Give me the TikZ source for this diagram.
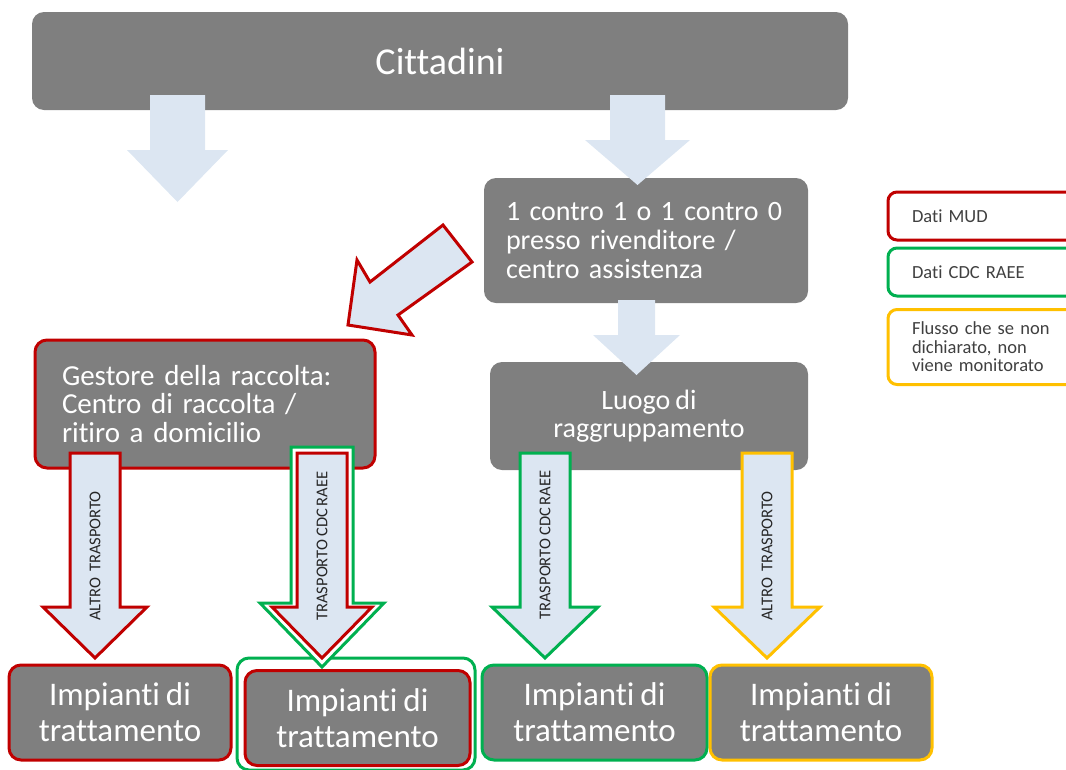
\documentclass[tikz,border=0pt]{standalone}
\usepackage{fontspec}
\setmainfont{Carlito}[Ligatures=NoCommon, WordSpace=0.8]
\usepackage{tikz}
\usetikzlibrary{positioning}
\definecolor{boxgray}{HTML}{7F7F7F}
\definecolor{mudred}{HTML}{C00000}
\definecolor{cdcgreen}{HTML}{00B050}
\definecolor{flowyellow}{HTML}{FFC000}
\definecolor{arrowblue}{HTML}{DCE6F2}
\definecolor{legtext}{HTML}{404040}
\tikzset{every node/.style={inner sep=0pt},
box/.style={draw=none, fill=boxgray, rounded corners=12pt, text=white},
legend/.style={draw, fill=white, line width=3pt, rounded corners=9pt, minimum width=198pt, text width=150pt, align=left, text=legtext, font=\fontsize{18.5}{18.5}\selectfont},
blk/.style={fill=arrowblue, draw=none},
arrowtext/.style={rotate=90, text=black!85, font=\fontsize{16.5}{18}\selectfont},
imp/.style={box, line width=3pt, minimum width=222pt, minimum height=95pt, align=center, font=\fontsize{33}{36}\selectfont}
}
\newcommand{\blockdown}[7]{%
  \draw[#1] (#2-#6,#3) -- (#2+#6,#3) -- (#2+#6,#4) -- (#2+#7,#4) -- (#2,#5)
    -- (#2-#7,#4) -- (#2-#6,#4) -- cycle;}
\begin{document}
\begin{tikzpicture}[x=1pt, y=-1pt]
\useasboundingbox (0,0) rectangle (1066,769);

\node[box, minimum width=816pt, minimum height=98pt, font=\fontsize{38}{42}\selectfont] (citt) at (440,61) {Cittadini};
\node[box, minimum width=324pt, minimum height=125pt, text width=280pt, align=left, font=\fontsize{28}{29}\selectfont] (rivend) at (646,240.5) {1 contro 1 o 1 contro 0\\presso rivenditore /\\centro assistenza};
\node[box, minimum width=318pt, minimum height=108pt, align=center, font=\fontsize{28}{28.5}\selectfont] (luogo) at (649,416) {Luogo di\\raggruppamento};
\node[box, draw=mudred, line width=3pt, minimum width=340pt, minimum height=128pt, text width=286pt, align=left, font=\fontsize{29}{28.5}\selectfont] (gestore) at (205,404) {Gestore della raccolta:\\Centro di raccolta /\\ritiro a domicilio};

\node[imp, draw=mudred] (imp1) at (120,712.5) {Impianti di\\trattamento};
\node[box, fill=white, draw=cdcgreen, line width=3pt, minimum width=238pt, minimum height=112pt] (imp2out) at (356,714) {};
\node[imp, draw=mudred, minimum width=225pt] (imp2) at (357.5,718) {Impianti di\\trattamento};
\node[imp, draw=cdcgreen, minimum width=225pt] (imp3) at (594.5,712.5) {Impianti di\\trattamento};
\node[imp, draw=flowyellow] (imp4) at (821,712.5) {Impianti di\\trattamento};

\node[legend, draw=mudred, minimum height=48pt] (mud) at (987,216) {Dati MUD};
\node[legend, draw=cdcgreen, minimum height=48pt] (cdc) at (987,272) {Dati CDC RAEE};
\node[legend, draw=flowyellow, minimum height=75pt] (flusso) at (987,347) {Flusso che se non\\dichiarato, non\\viene monitorato};

\blockdown{blk}{177.5}{95}{150}{202}{27.5}{50.5}
\blockdown{blk}{637.5}{95}{140}{185}{27.5}{52.5}
\blockdown{blk}{636.5}{300}{335}{375}{18.5}{43.5}
\draw[blk, draw=mudred, line width=3pt, line join=miter] (443,225) -- (472,262) -- (398,315) -- (412,335)
  -- (348,325) -- (357,260) -- (370,282) -- cycle;

\blockdown{blk, draw=mudred, line width=3pt}{95}{453}{607}{658}{25}{52}
\blockdown{fill=white, draw=cdcgreen, line width=3pt}{322}{447}{603}{667}{31}{62}
\blockdown{blk, draw=mudred, line width=3pt}{322}{453}{607}{658}{25}{50}
\blockdown{blk, draw=cdcgreen, line width=3pt}{545}{453}{607}{658}{25}{53}
\blockdown{blk, draw=flowyellow, line width=3pt}{767}{453}{607}{658}{25}{53}

\node[arrowtext] (t1) at (95,556) {ALTRO\ \ TRASPORTO};
\node[arrowtext] (t2) at (322,546) {TRASPORTO CDC RAEE};
\node[arrowtext] (t3) at (545,545) {TRASPORTO CDC RAEE};
\node[arrowtext] (t4) at (767,556) {ALTRO\ \ TRASPORTO};
\end{tikzpicture}
\end{document}
